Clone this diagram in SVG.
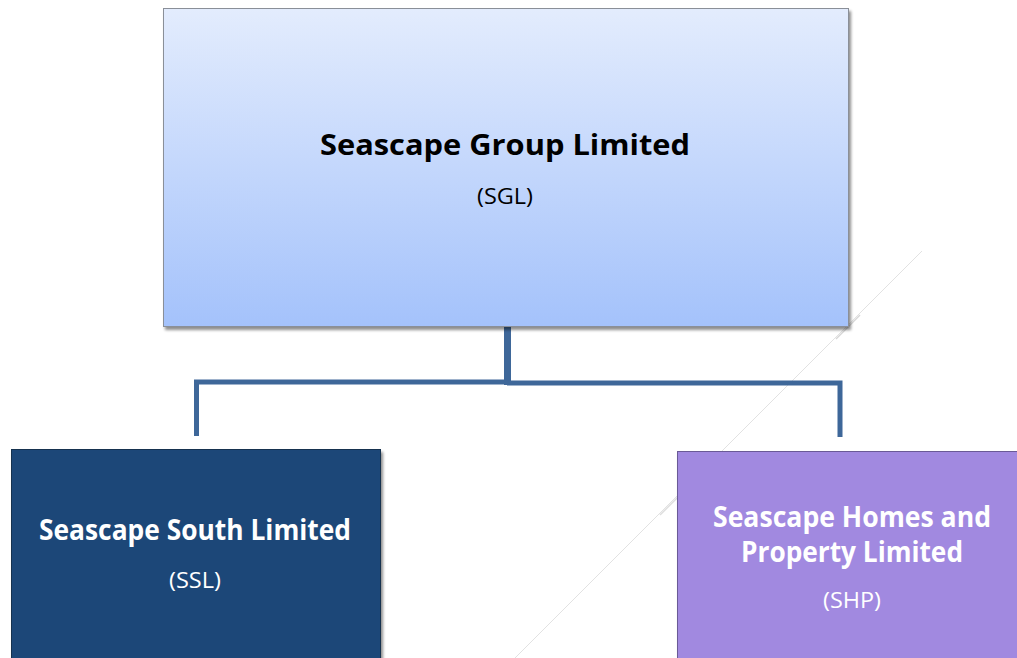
<svg xmlns="http://www.w3.org/2000/svg" width="1017" height="658" viewBox="0 0 1017 658">
<defs>
<linearGradient id="gTop" x1="0" y1="0" x2="0" y2="1">
<stop offset="0" stop-color="#e3ecfd"/>
<stop offset="1" stop-color="#a4c2fb"/>
</linearGradient>
<filter id="sh" x="-5%" y="-5%" width="115%" height="115%">
<feGaussianBlur in="SourceAlpha" stdDeviation="1.5"/>
<feOffset dx="2" dy="3" result="b"/>
<feComponentTransfer><feFuncA type="linear" slope="0.45"/></feComponentTransfer>
<feMerge><feMergeNode/><feMergeNode in="SourceGraphic"/></feMerge>
</filter>
</defs>
<style>
.t{font-family:"Open Sans","Liberation Sans",sans-serif;text-anchor:middle}
.b{font-weight:bold;font-size:28px}
.s{font-size:21px}
.con{fill:none;stroke:#3e6799;stroke-width:5;stroke-linecap:butt;stroke-linejoin:miter}
</style>
<rect width="1017" height="658" fill="#ffffff"/>
<g id="decor">
<line x1="922" y1="251" x2="513" y2="660" stroke="#e2e2e2" stroke-width="1"/>
<line x1="860" y1="315" x2="836" y2="339" stroke="#d6d6d6" stroke-width="1.5"/>
<line x1="678" y1="497" x2="660" y2="515" stroke="#dedede" stroke-width="1.5"/>
</g>
<g id="connectors">
<line class="con" x1="507.5" y1="327" x2="507.5" y2="385" style="stroke-width:7"/>
<polyline class="con" points="196.5,436 196.5,382 507,382"/>
<polyline class="con" points="507,383 840,383 840,437"/>
</g>
<g id="node-sgl">
<rect x="163.5" y="8.5" width="685" height="318" fill="url(#gTop)" stroke="#8a8f98" stroke-width="1" filter="url(#sh)"/>
<text class="t b" x="505" y="155" fill="#000" textLength="370" lengthAdjust="spacingAndGlyphs">Seascape Group Limited</text>
<text class="t s" x="505" y="204" fill="#000" textLength="56" lengthAdjust="spacingAndGlyphs">(SGL)</text>
</g>
<g id="node-ssl">
<rect x="11.5" y="449.5" width="369" height="212" fill="#1f4678" stroke="#15304f" stroke-width="1" filter="url(#sh)"/>
<text class="t b" x="195" y="540" fill="#fff" textLength="312" lengthAdjust="spacingAndGlyphs">Seascape South Limited</text>
<text class="t s" x="195" y="588" fill="#fff" textLength="52" lengthAdjust="spacingAndGlyphs">(SSL)</text>
</g>
<g id="node-shp">
<rect x="677.5" y="451.5" width="345" height="210" fill="#a189e0" stroke="#6a5a96" stroke-width="1" filter="url(#sh)"/>
<text class="t b" x="852" y="527" fill="#fff" textLength="278" lengthAdjust="spacingAndGlyphs">Seascape Homes and</text>
<text class="t b" x="852" y="562" fill="#fff" textLength="222" lengthAdjust="spacingAndGlyphs">Property Limited</text>
<text class="t s" x="852" y="608" fill="#fff" textLength="58" lengthAdjust="spacingAndGlyphs">(SHP)</text>
</g>
</svg>
